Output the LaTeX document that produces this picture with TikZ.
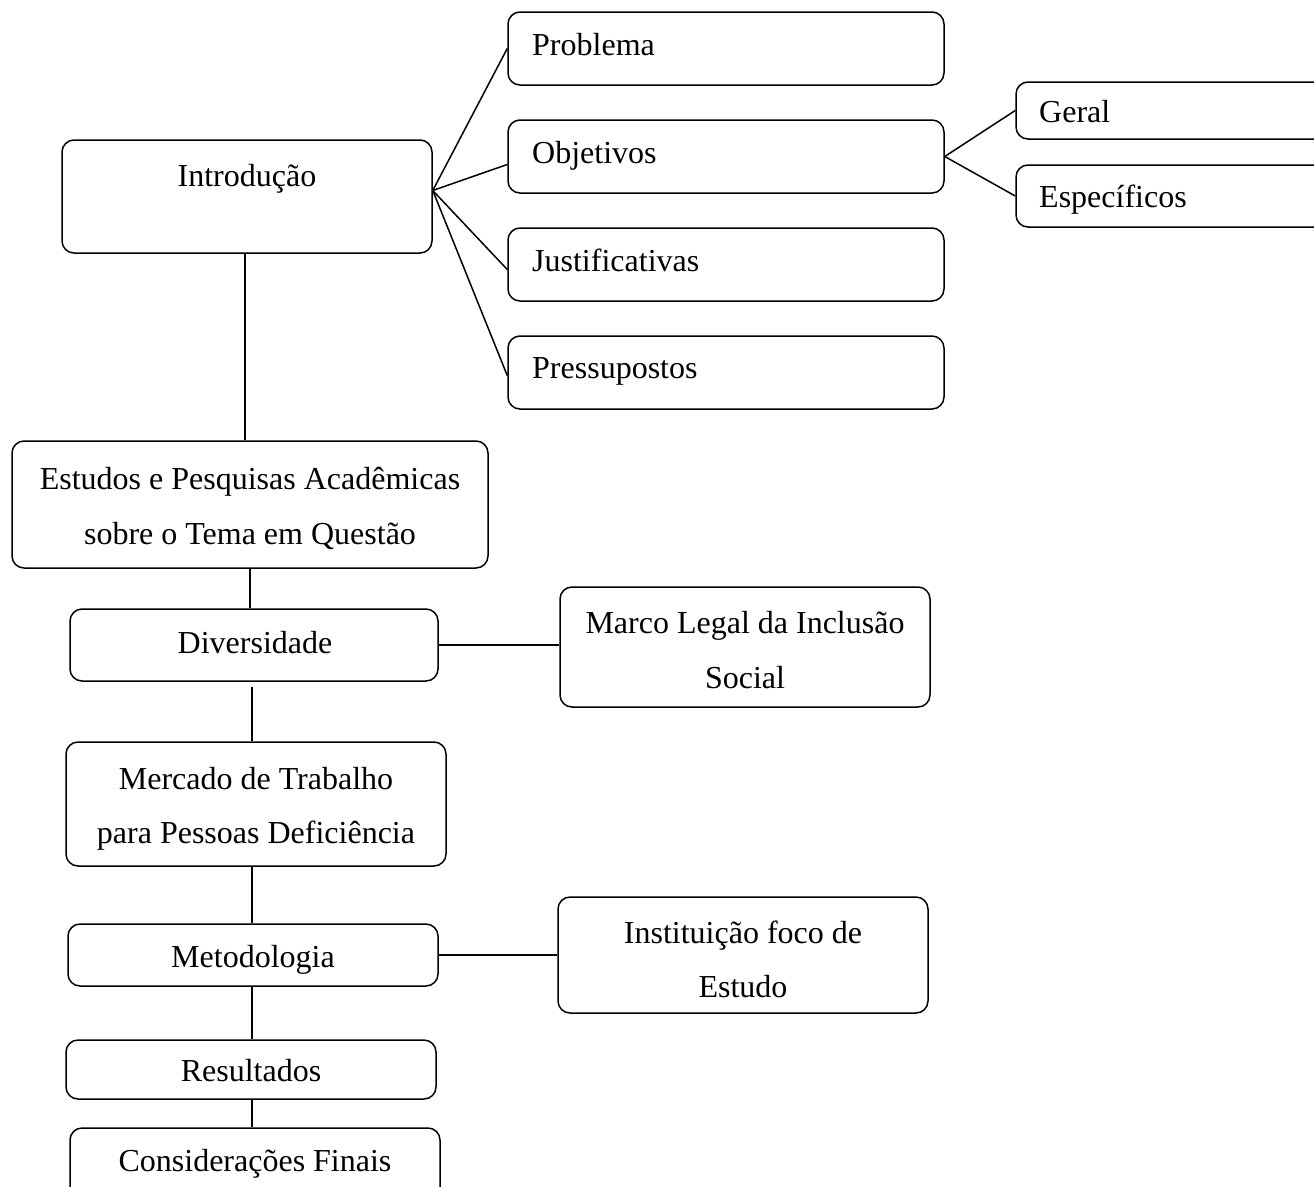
\documentclass[tikz,border=0pt]{standalone}
\usepackage{fontspec}
\setmainfont{Liberation Serif}
\begin{document}
\begin{tikzpicture}[x=1pt,y=-1pt,
  box/.style={draw, line width=1.5pt, rounded corners=12pt, inner sep=0pt},
  txt/.style={inner sep=0pt, font=\fontsize{32}{55}\selectfont},
  conn/.style={line width=1.5pt}]
\useasboundingbox (0,0) rectangle (1314,1186);
\clip (0,0) rectangle (1314,1186);
% boxes
\node[box, minimum width=436pt, minimum height=73pt] (prob) at (726,48.5) {};
\node[box, minimum width=436pt, minimum height=73pt] (obj) at (726,156.5) {};
\node[box, minimum width=436pt, minimum height=73pt] (just) at (726,264.5) {};
\node[box, minimum width=436pt, minimum height=73pt] (pres) at (726,372.5) {};
\node[box, minimum width=370pt, minimum height=113pt] (intro) at (247,196.5) {};
\node[box, minimum width=324pt, minimum height=57pt] (geral) at (1178,110.5) {};
\node[box, minimum width=324pt, minimum height=62pt] (espec) at (1178,196) {};
\node[box, minimum width=476pt, minimum height=127pt] (estudos) at (250,504.5) {};
\node[box, minimum width=368pt, minimum height=72pt] (divers) at (254,645) {};
\node[box, minimum width=370pt, minimum height=120pt] (marco) at (745,647) {};
\node[box, minimum width=380pt, minimum height=124pt] (merc) at (256,804) {};
\node[box, minimum width=370pt, minimum height=62pt] (metod) at (253,955) {};
\node[box, minimum width=370pt, minimum height=116pt] (inst) at (743,955) {};
\node[box, minimum width=370pt, minimum height=59pt] (result) at (251,1069.5) {};
\node[box, minimum width=370pt, minimum height=92pt] (consid) at (255,1174) {};
% texts
\node[txt, anchor=base west] (tprob) at (532,55) {Problema};
\node[txt, anchor=base west] (tobj) at (532,163) {Objetivos};
\node[txt, anchor=base west] (tjust) at (532,271) {Justificativas};
\node[txt, anchor=base west] (tpres) at (532,378) {Pressupostos};
\node[txt, anchor=base] (tintro) at (247,186) {Introdução};
\node[txt, anchor=base west] (tgeral) at (1039,122) {Geral};
\node[txt, anchor=base west] (tespec) at (1039,207) {Específicos};
\node[txt, anchor=base] (test1) at (250,489) {Estudos e Pesquisas Acadêmicas};
\node[txt, anchor=base] (test2) at (250,544) {sobre o Tema em Questão};
\node[txt, anchor=base] (tdivers) at (255,653) {Diversidade};
\node[txt, anchor=base] (tmarco1) at (745,633) {Marco Legal da Inclusão};
\node[txt, anchor=base] (tmarco2) at (745,688) {Social};
\node[txt, anchor=base] (tmerc1) at (256,789) {Mercado de Trabalho};
\node[txt, anchor=base] (tmerc2) at (256,843) {para Pessoas Deficiência};
\node[txt, anchor=base] (tmetod) at (253,967) {Metodologia};
\node[txt, anchor=base] (tinst1) at (743,943) {Instituição foco de};
\node[txt, anchor=base] (tinst2) at (743,997) {Estudo};
\node[txt, anchor=base] (tresult) at (251,1081) {Resultados};
\node[txt, anchor=base] (tconsid) at (255,1171) {Considerações Finais};
% connectors
\coordinate (ij) at ([yshift=6pt]intro.east);
\draw[conn] (ij) -- (prob.west);
\draw[conn] (ij) -- ([yshift=-8pt]obj.west);
\draw[conn] (ij) -- ([yshift=-5pt]just.west);
\draw[conn] (ij) -- ([yshift=-3pt]pres.west);
\draw[conn] (obj.east) -- (geral.west);
\draw[conn] (obj.east) -- (espec.west);
\draw[conn] ([xshift=-2pt]intro.south) -- ([xshift=-2pt]intro.south |- estudos.north);
\draw[conn] (estudos.south) -- (estudos.south |- divers.north);
\coordinate (dv) at ([yshift=-5pt]divers.south -| 252,0);
\draw[conn] (dv) -- (dv |- merc.north);
\draw[conn] (divers.east) -- (divers.east -| marco.west);
\draw[conn] (merc.south -| 252,0) -- (metod.north -| 252,0);
\draw[conn] (metod.east) -- (metod.east -| inst.west);
\draw[conn] (metod.south -| 252,0) -- (result.north -| 252,0);
\draw[conn] (result.south -| 252,0) -- (consid.north -| 252,0);
\end{tikzpicture}
\end{document}
